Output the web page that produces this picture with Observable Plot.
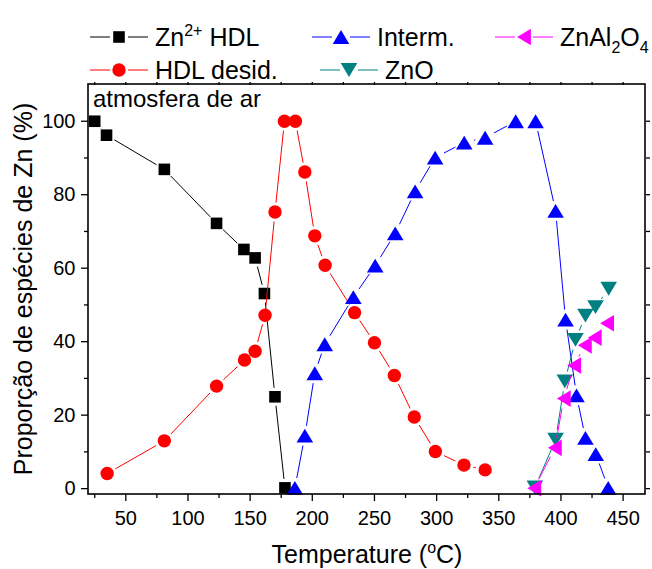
<!DOCTYPE html>
<html><head><meta charset="utf-8">
<script src="https://cdn.jsdelivr.net/npm/d3@7"></script>
<script src="https://cdn.jsdelivr.net/npm/@observablehq/plot@0.6"></script>
<style>
body{margin:0;background:#fff;}
#wrap{width:652px;height:569px;}
</style></head><body><div id="wrap"></div>
<script>
// ---- data ----
const znHdlT = [25, 34.5, 81, 123, 145, 154, 161.5, 170, 178];
const znHdlV = [100, 96.2, 86.9, 72.2, 65.1, 62.8, 53.1, 25.0, 0.2];

const desidT = [35, 81, 123, 145.5, 154, 162, 170, 177.6, 186.4, 194, 202, 210.3, 234, 250, 266, 282, 299, 322, 339];
const desidV = [4.1, 13.0, 27.9, 35.0, 37.4, 47.2, 75.3, 100, 100, 86.2, 68.8, 60.8, 47.9, 39.7, 30.8, 19.5, 10.1, 6.4, 5.1];

const intermT = [186, 194, 202, 210, 233, 250.6, 266.7, 282.7, 298.8, 322.2, 339, 363.6, 379.6, 395.7, 403.7, 412.5, 419.7, 428, 438];
const intermV = [0.2, 14.4, 31.4, 39.3, 52.1, 60.7, 69.5, 80.9, 90.1, 94.2, 95.5, 100, 100, 75.6, 46.0, 25.4, 13.8, 9.4, 0.2];

const znoT = [379, 395.7, 403.1, 411.7, 419.7, 427.8, 438.4];
const znoV = [0.3, 13.3, 29.2, 40.5, 47.1, 49.4, 54.4];

const znalT = [378.5, 395.1, 402.3, 410.6, 419.2, 427.2, 437.1];
const znalV = [0.1, 11.1, 24.5, 33.5, 39.0, 41.1, 45.0];

const xMajorTicks = [50, 100, 150, 200, 250, 300, 350, 400, 450];
const xMinorTicks = [25, 75, 125, 175, 225, 275, 325, 375, 425];
const yMajorTicks = [0, 20, 40, 60, 80, 100];
const yMinorTicks = [10, 30, 50, 70, 90];
const xTopTicks = [25, 50, 75, 100, 125, 150, 175, 200, 225, 250, 275, 300, 325, 350, 375, 400, 425, 450];
const yRightTicks = [0, 10, 20, 30, 40, 50, 60, 70, 80, 90, 100];

// ---- symbols ----
const sqSym = {draw(c, size){const k=Math.sqrt(size/Math.PI)/6, h=5.8*k; c.moveTo(-h,-h); c.lineTo(h,-h); c.lineTo(h,h); c.lineTo(-h,h); c.closePath();}};
const ciSym = {draw(c, size){const k=Math.sqrt(size/Math.PI)/6, r=6.7*k; c.moveTo(r,0); c.arc(0,0,r,0,2*Math.PI);}};
const upSym = {draw(c, size){const k=Math.sqrt(size/Math.PI)/6, w=8.3*k, h=6.9*k; c.moveTo(0,-h); c.lineTo(w,h); c.lineTo(-w,h); c.closePath();}};
const dnSym = {draw(c, size){const k=Math.sqrt(size/Math.PI)/6, w=8.3*k, h=6.9*k; c.moveTo(0,h); c.lineTo(w,-h); c.lineTo(-w,-h); c.closePath();}};
const ltSym = {draw(c, size){const k=Math.sqrt(size/Math.PI)/6, w=8.3*k, h=6.9*k; c.moveTo(-h,0); c.lineTo(h,-w); c.lineTo(h,w); c.closePath();}};

const series = [
  {T: znHdlT, V: znHdlV, color: "#000000", sym: sqSym, gap: 9},
  {T: desidT, V: desidV, color: "#ff0000", sym: ciSym, gap: 9.5},
  {T: intermT, V: intermV, color: "#0000ff", sym: upSym, gap: 10},
  {T: znoT, V: znoV, color: "#008080", sym: dnSym, gap: 10},
  {T: znalT, V: znalV, color: "#ff00ff", sym: ltSym, gap: 10}
];

const font = "'Liberation Sans', Arial, sans-serif";
const marks = [];
for (const s of series) {
  const data = s.T.map((t, i) => ({t, v: s.V[i]}));
  const segs = d3.pairs(data).map(([a, b]) => ({t1: a.t, v1: a.v, t2: b.t, v2: b.v}));
  marks.push(Plot.arrow(segs, {x1: "t1", y1: "v1", x2: "t2", y2: "v2", stroke: s.color, strokeWidth: 1,
    headLength: 0, insetStart: s.gap, insetEnd: s.gap, bend: 0, strokeLinecap: "butt"}));
  marks.push(Plot.dot(data, {x: "t", y: "v", r: 6, symbol: s.sym, fill: s.color, stroke: "none"}));
}

const plot = Plot.plot({
  width: 652, height: 569,
  marginLeft: 88, marginRight: 7, marginTop: 84, marginBottom: 75,
  style: {fontFamily: font, background: "#fff", color: "#000"},
  x: {domain: [20, 468]},
  y: {domain: [-1.6, 110]},
  marks: [
    ...marks,
    Plot.axisX(xMajorTicks, {tickSize: 7, tickPadding: 9, fontSize: 20, label: null, strokeWidth: 1.3}),
    Plot.axisX(xMinorTicks, {tickSize: 4, tickFormat: () => "", label: null, strokeWidth: 1.3}),
    Plot.axisX(xTopTicks, {anchor: "top", tickSize: 3, tickFormat: () => "", label: null, strokeWidth: 1.3}),
    Plot.axisY(yMajorTicks, {tickSize: 7, tickPadding: 6, fontSize: 20, label: null, strokeWidth: 1.3}),
    Plot.axisY(yMinorTicks, {tickSize: 4, tickFormat: () => "", label: null, strokeWidth: 1.3}),
    Plot.axisY(yRightTicks, {anchor: "right", tickSize: 4, tickFormat: () => "", label: null, strokeWidth: 1.3})
  ]
});
document.getElementById("wrap").appendChild(plot);

// ---- frame, titles, legend ----
const svg = d3.select(plot);
const xr = plot.scale("x").range, yr = plot.scale("y").range;
svg.append("rect")
  .attr("x", Math.min(...xr)).attr("y", Math.min(...yr))
  .attr("width", Math.abs(xr[1] - xr[0])).attr("height", Math.abs(yr[1] - yr[0]))
  .attr("fill", "none").attr("stroke", "#000").attr("stroke-width", 1.6);

const g = svg.append("g").attr("font-family", font).attr("fill", "#000").attr("text-anchor", "start");

g.append("text").attr("x", 93).attr("y", 107).attr("font-size", 24).attr("text-anchor", "start").text("atmosfera de ar");

const xt = g.append("text").attr("x", 367).attr("y", 563).attr("font-size", 25).attr("text-anchor", "middle");
xt.append("tspan").text("Temperature (");
xt.append("tspan").attr("font-size", 16).attr("dy", -10).text("o");
xt.append("tspan").attr("dy", 10).text("C)");

g.append("text").attr("transform", "translate(32,289) rotate(-90)").attr("font-size", 25)
  .attr("text-anchor", "middle").text("Proporção de espécies de Zn (%)");

const legendItems = [
  {s: 0, x: 90, y: 37, parts: [["Zn"], ["2+", "sup"], [" HDL"]]},
  {s: 2, x: 312, y: 37, parts: [["Interm."]]},
  {s: 4, x: 495, y: 37, parts: [["ZnAl"], ["2", "sub"], ["O"], ["4", "sub"]]},
  {s: 1, x: 90, y: 70, parts: [["HDL desid."]]},
  {s: 3, x: 320, y: 70, parts: [["ZnO"]]}
];
for (const it of legendItems) {
  const s = series[it.s];
  for (const [a, b] of [[0, 20], [38, 58]]) {
    g.append("line").attr("x1", it.x + a).attr("x2", it.x + b).attr("y1", it.y).attr("y2", it.y)
      .attr("stroke", s.color).attr("stroke-width", 1);
  }
  const p = d3.path();
  s.sym.draw(p, Math.PI * 36);
  g.append("path").attr("d", p.toString()).attr("transform", `translate(${it.x + 29},${it.y})`)
    .attr("fill", s.color);
  const t = g.append("text").attr("x", it.x + 65).attr("y", it.y + 9).attr("font-size", 25).attr("text-anchor", "start");
  let shift = 0;
  for (const [txt, kind] of it.parts) {
    const sp = t.append("tspan").text(txt);
    let target = 0;
    if (kind === "sup") { sp.attr("font-size", 16); target = -10; }
    else if (kind === "sub") { sp.attr("font-size", 16); target = 7; }
    if (target !== shift) { sp.attr("dy", target - shift); shift = target; }
  }
}
</script>
</body></html>
